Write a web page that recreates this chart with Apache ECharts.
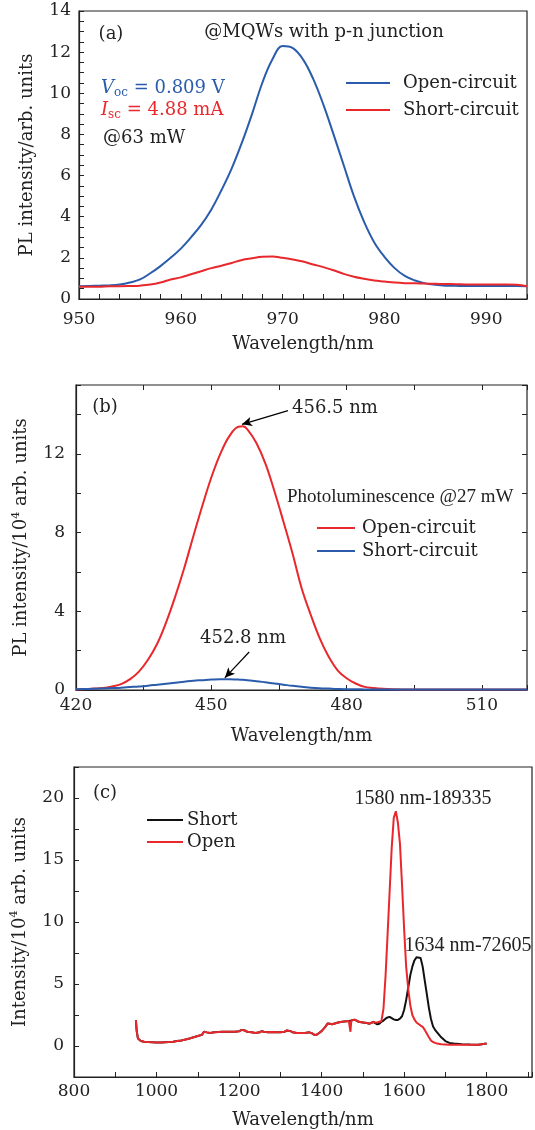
<!DOCTYPE html>
<html>
<head>
<meta charset="utf-8">
<script src="https://cdn.jsdelivr.net/npm/echarts@6/dist/echarts.min.js"></script>
<style>
  html, body { margin: 0; padding: 0; background: #fff; }
  #chart { width: 535px; height: 1130px; }
</style>
</head>
<body>
<div id="chart"></div>
<script>
// (a) MQWs with p-n junction, @63 mW
const aWl = [950, 951, 952, 953, 954, 955, 956, 957, 958, 959,
  960, 961, 962, 963, 964, 965, 966, 967, 968, 969,
  970, 971, 972, 973, 974, 975, 976, 977, 978, 979,
  980, 981, 982, 983, 984, 985, 986, 987, 988, 989,
  990, 991, 992, 993, 994];
const aOpen = [0.62, 0.63, 0.65, 0.66, 0.7, 0.8, 0.95, 1.25, 1.6, 2.0,
  2.45, 3.0, 3.6, 4.35, 5.3, 6.35, 7.6, 9.0, 10.5, 11.65,
  12.3, 12.2, 11.65, 10.7, 9.45, 8.0, 6.5, 5.0, 3.75, 2.75,
  2.05, 1.5, 1.12, 0.9, 0.76, 0.69, 0.65, 0.64, 0.63, 0.63,
  0.63, 0.63, 0.63, 0.63, 0.62];
const aShort = [0.6, 0.6, 0.6, 0.62, 0.62, 0.63, 0.65, 0.7, 0.8, 0.95,
  1.05, 1.2, 1.35, 1.5, 1.62, 1.75, 1.9, 1.98, 2.05, 2.07,
  2.0, 1.92, 1.82, 1.68, 1.55, 1.4, 1.22, 1.08, 0.98, 0.9,
  0.85, 0.8, 0.77, 0.76, 0.75, 0.74, 0.73, 0.72, 0.71, 0.7,
  0.7, 0.7, 0.7, 0.69, 0.62];

// (b) photoluminescence @27 mW, 10^4 arb. units
const bWl = [420, 422, 424, 426, 428, 430, 432, 434, 436, 438,
  440, 442, 444, 446, 448, 450, 452, 454, 456, 457,
  458, 460, 462, 464, 466, 468, 470, 472, 474, 476,
  478, 480, 482, 484, 486, 488, 490, 495, 500, 510, 520];
const bOpen = [0.03, 0.05, 0.07, 0.1, 0.18, 0.3, 0.55, 0.95, 1.55, 2.35,
  3.45, 4.75, 6.2, 7.8, 9.35, 10.8, 12.0, 12.9, 13.38, 13.4,
  13.25, 12.55, 11.5, 10.1, 8.55, 6.95, 5.2, 3.85, 2.65, 1.7,
  1.0, 0.6, 0.33, 0.16, 0.1, 0.06, 0.04, 0.03, 0.03, 0.03, 0.03];
const bShort = [0.04, 0.05, 0.06, 0.08, 0.1, 0.12, 0.15, 0.18, 0.22, 0.27,
  0.32, 0.37, 0.42, 0.47, 0.5, 0.53, 0.55, 0.55, 0.53, 0.52,
  0.5, 0.45, 0.39, 0.33, 0.27, 0.21, 0.16, 0.12, 0.09, 0.07,
  0.05, 0.04, 0.04, 0.03, 0.03, 0.03, 0.03, 0.03, 0.03, 0.03, 0.03];

// (c) 10^4 arb. units
const cWl = [950, 952, 955, 958, 962, 970, 980, 990, 1000, 1010,
  1020, 1030, 1040, 1050, 1060, 1070, 1080, 1090, 1100, 1110,
  1115, 1118, 1122, 1130, 1140, 1150, 1160, 1170, 1180, 1190,
  1200, 1206, 1210, 1214, 1220, 1230, 1240, 1250, 1255, 1260,
  1270, 1280, 1290, 1300, 1310, 1316, 1320, 1325, 1330, 1340,
  1350, 1360, 1370, 1375, 1380, 1385, 1390, 1400, 1408, 1415,
  1420, 1425, 1430, 1440, 1450, 1460, 1466, 1468, 1470, 1472,
  1476, 1480, 1485, 1490, 1500, 1510, 1515, 1520, 1525, 1530,
  1535, 1540, 1545, 1550, 1555, 1560, 1565, 1570, 1575, 1580,
  1585, 1590, 1595, 1600, 1605, 1610, 1615, 1620, 1625, 1630,
  1634, 1640, 1645, 1650, 1655, 1660, 1665, 1670, 1675, 1680,
  1690, 1700, 1710, 1720, 1740, 1760, 1780, 1800];
const cShort = [2.1, 1.2, 0.6, 0.45, 0.4, 0.35, 0.32, 0.3, 0.28, 0.28,
  0.3, 0.32, 0.35, 0.4, 0.45, 0.52, 0.6, 0.7, 0.8, 0.9,
  1.15, 1.25, 1.1, 1.05, 1.1, 1.12, 1.15, 1.15, 1.15, 1.15,
  1.18, 1.3, 1.42, 1.25, 1.15, 1.1, 1.05, 1.1, 1.2, 1.15,
  1.1, 1.12, 1.1, 1.1, 1.15, 1.25, 1.32, 1.2, 1.1, 1.05,
  1.05, 1.05, 1.1, 1.05, 0.95, 0.88, 0.95, 1.2, 1.5, 1.82,
  1.8, 1.75, 1.8, 1.9, 1.95, 2.0, 2.02, 2.02, 2.05, 2.05,
  2.1, 2.12, 2.05, 1.95, 1.9, 1.85, 1.8, 1.85, 1.95, 1.85,
  1.75, 1.8, 1.95, 2.05, 2.2, 2.3, 2.35, 2.25, 2.15, 2.1,
  2.1, 2.2, 2.4, 2.9, 3.7, 4.7, 5.7, 6.4, 6.9, 7.15,
  7.26, 7.1, 6.4, 5.3, 4.2, 3.1, 2.2, 1.6, 1.3, 1.1,
  0.7, 0.4, 0.25, 0.2, 0.15, 0.12, 0.1, 0.2];
const cOpen = [2.1, 1.2, 0.6, 0.45, 0.4, 0.35, 0.32, 0.3, 0.28, 0.28,
  0.3, 0.32, 0.35, 0.4, 0.45, 0.52, 0.6, 0.7, 0.8, 0.9,
  1.15, 1.25, 1.1, 1.05, 1.1, 1.12, 1.15, 1.15, 1.15, 1.15,
  1.18, 1.3, 1.42, 1.25, 1.15, 1.1, 1.05, 1.1, 1.2, 1.15,
  1.1, 1.12, 1.1, 1.1, 1.15, 1.25, 1.32, 1.2, 1.1, 1.05,
  1.05, 1.05, 1.1, 1.05, 0.95, 0.88, 0.95, 1.2, 1.5, 1.82,
  1.8, 1.75, 1.8, 1.9, 1.95, 2.0, 2.02, 2.02, 1.15, 2.05,
  2.1, 2.12, 2.05, 1.95, 1.9, 1.85, 1.8, 1.85, 1.95, 1.9,
  1.9, 1.95, 2.0, 3.0, 5.6, 9.0, 12.5, 16.0, 18.4, 18.93,
  18.0, 16.3, 13.0, 9.5, 6.4, 4.6, 3.3, 2.5, 2.15, 1.9,
  1.8, 1.65, 1.55, 1.3, 1.0, 0.7, 0.45, 0.32, 0.25, 0.2,
  0.14, 0.12, 0.1, 0.1, 0.1, 0.1, 0.1, 0.2];

const serif = "DejaVu Serif";
const times = "Liberation Serif";
const ink = "#222";
const blue = "#2b5cab";
const red = "#e8282c";

function pairs(xs, ys) {
  return xs.map((x, i) => [x, ys[i]]);
}

function xAxisOf(gridIndex, min, max, step, labelStep, margin, nameGap) {
  return {
    type: "value", gridIndex, min, max, interval: step,
    name: "Wavelength/nm", nameLocation: "middle", nameGap,
    nameTextStyle: { fontFamily: serif, fontSize: 18, color: ink },
    axisLine: { show: true, onZero: false, lineStyle: { color: ink, width: 1.2 } },
    axisTick: { show: true, inside: true, length: 5, lineStyle: { color: ink } },
    axisLabel: {
      margin, fontFamily: serif, fontSize: 17, color: ink,
      formatter: (v) => (v % labelStep === 0 ? String(v) : ""),
    },
    splitLine: { show: false },
  };
}

function yAxisOf(gridIndex, min, max, step, labelStep, margin, name, nameGap) {
  return {
    type: "value", gridIndex, min, max, interval: step,
    name, nameLocation: "middle", nameGap,
    nameTextStyle: {
      fontFamily: serif, fontSize: 18, color: ink, lineHeight: 22,
      rich: { sup: { fontFamily: serif, fontSize: 11, lineHeight: 11, verticalAlign: "top", color: ink } },
    },
    axisLine: { show: true, onZero: false, lineStyle: { color: ink, width: 1.2 } },
    axisTick: { show: true, inside: true, length: 5, lineStyle: { color: ink } },
    axisLabel: {
      margin, fontFamily: serif, fontSize: 17, color: ink,
      formatter: (v) => (v % labelStep === 0 ? String(v) : ""),
    },
    splitLine: { show: false },
  };
}

function mirrorAxis(axis, position) {
  return Object.assign({}, axis, {
    position, name: "",
    axisLine: { show: false, onZero: false },
    axisLabel: { show: false },
  });
}

function txt(x, y, text, extra) {
  return {
    type: "text", x, y, silent: true,
    style: Object.assign({
      text, fill: ink, fontFamily: serif, fontSize: 18,
      align: "left", verticalAlign: "middle",
    }, extra || {}),
  };
}

function keyLine(x1, x2, y, color) {
  return {
    type: "line", silent: true,
    shape: { x1, y1: y, x2, y2: y },
    style: { stroke: color, lineWidth: 2 },
  };
}

function subText(main, sub, rest, color) {
  return {
    text: "{v|" + main + "}{s|" + sub + "}{t|" + rest + "}",
    fill: color,
    rich: {
      v: { fontFamily: serif, fontSize: 18, fontStyle: "italic", lineHeight: 22, fill: color },
      s: { fontFamily: serif, fontSize: 12, lineHeight: 12, verticalAlign: "bottom", fill: color },
      t: { fontFamily: serif, fontSize: 18, lineHeight: 22, fill: color },
    },
  };
}

const grids = [
  { left: 79, top: 11, width: 448, height: 288 },
  { left: 76, top: 385, width: 451, height: 305 },
  { left: 74, top: 767, width: 459, height: 310 },
].map((g) => Object.assign({ show: true, borderColor: ink, borderWidth: 1.2 }, g));

const xB = xAxisOf(1, 420, 520, 15, 30, 7, 37);
const yB = yAxisOf(1, 0, 15.5, 2, 4, 11, "PL intensity/10{sup|4} arb. units", 38);

const arrowLine = {
  silent: true, symbol: ["none", "arrow"], symbolSize: [7, 10],
  lineStyle: { color: "#000", width: 1.2, type: "solid" },
  label: { show: false }, animation: false,
};

const chart = echarts.init(document.getElementById("chart"));
chart.setOption({
  animation: false,
  backgroundColor: "#fff",
  grid: grids,
  xAxis: [
    xAxisOf(0, 950, 994, 2, 10, 12, 36),
    xB,
    xAxisOf(2, 800, 1910, 100, 200, 6, 34),
    mirrorAxis(xB, "top"),
  ],
  yAxis: [
    yAxisOf(0, 0, 14, 0.5, 2, 8, "PL intensity/arb. units", 41),
    yB,
    yAxisOf(2, -2.5, 22.5, 2.5, 5, 10, "Intensity/10{sup|4} arb. units", 43),
    mirrorAxis(yB, "right"),
  ],
  series: [
    {
      name: "Open-circuit (a)", type: "line", xAxisIndex: 0, yAxisIndex: 0,
      data: pairs(aWl, aOpen), showSymbol: false, smooth: 0.4,
      lineStyle: { color: blue, width: 2 }, itemStyle: { color: blue },
    },
    {
      name: "Short-circuit (a)", type: "line", xAxisIndex: 0, yAxisIndex: 0,
      data: pairs(aWl, aShort), showSymbol: false, smooth: 0.4,
      lineStyle: { color: red, width: 2 }, itemStyle: { color: red },
    },
    {
      name: "Open-circuit (b)", type: "line", xAxisIndex: 1, yAxisIndex: 1,
      data: pairs(bWl, bOpen), showSymbol: false, smooth: 0.4,
      lineStyle: { color: red, width: 2 }, itemStyle: { color: red },
      markLine: Object.assign({ data: [[{ coord: [467.0, 14.2] }, { coord: [456.8, 13.5] }]] }, arrowLine),
    },
    {
      name: "Short-circuit (b)", type: "line", xAxisIndex: 1, yAxisIndex: 1,
      data: pairs(bWl, bShort), showSymbol: false, smooth: 0.4,
      lineStyle: { color: blue, width: 2 }, itemStyle: { color: blue },
      markLine: Object.assign({ data: [[{ coord: [458.4, 1.93] }, { coord: [453.0, 0.62] }]] }, arrowLine),
    },
    {
      name: "Short", type: "line", xAxisIndex: 2, yAxisIndex: 2,
      data: pairs(cWl, cShort), showSymbol: false,
      lineStyle: { color: "#111", width: 2 }, itemStyle: { color: "#111" },
    },
    {
      name: "Open", type: "line", xAxisIndex: 2, yAxisIndex: 2,
      data: pairs(cWl, cOpen), showSymbol: false,
      lineStyle: { color: red, width: 2 }, itemStyle: { color: red },
    },
  ],
  graphic: [
    // (a)
    txt(111, 34, "(a)", { align: "center" }),
    txt(324, 32, "@MQWs with p-n junction", { align: "center" }),
    txt(101, 88, "", subText("V", "oc", " = 0.809 V", blue)),
    txt(101, 110, "", subText("I", "sc", " = 4.88 mA", red)),
    txt(103, 138, "@63 mW"),
    keyLine(346, 390, 83, blue),
    txt(403, 83, "Open-circuit"),
    keyLine(346, 390, 110, red),
    txt(403, 110, "Short-circuit"),
    // (b)
    txt(105, 407, "(b)", { align: "center" }),
    txt(292, 408, "456.5 nm"),
    txt(243, 638, "452.8 nm", { align: "center" }),
    txt(287, 497, "Photoluminescence @27 mW", { fontFamily: times, fontSize: 19 }),
    keyLine(317, 355, 528, red),
    txt(362, 528, "Open-circuit"),
    keyLine(317, 355, 551, blue),
    txt(362, 551, "Short-circuit"),
    // (c)
    txt(105, 793, "(c)", { align: "center" }),
    keyLine(147, 183, 820, "#111"),
    txt(187, 820, "Short"),
    keyLine(147, 183, 842, red),
    txt(187, 842, "Open"),
    txt(423, 799, "1580 nm-189335", { align: "center", fontFamily: times, fontSize: 20 }),
    txt(468, 946, "1634 nm-72605", { align: "center", fontFamily: times, fontSize: 20 }),
  ],
});
</script>
</body>
</html>
